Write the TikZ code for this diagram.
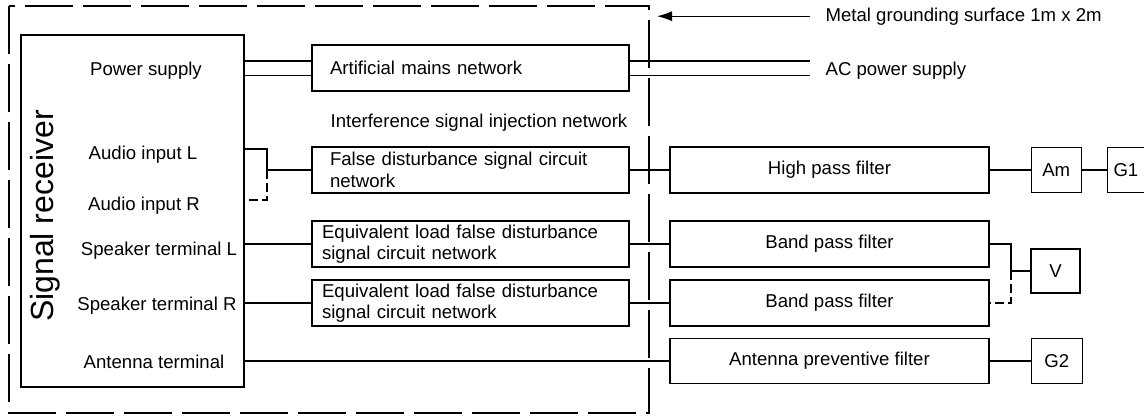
\documentclass[tikz,border=0pt]{standalone}
\usepackage{fontspec}
\setmainfont{Liberation Sans}
\usetikzlibrary{arrows.meta}
\usetikzlibrary{positioning}
\newcommand{\lblfont}{\fontsize{18.6}{21.5}\selectfont}

\begin{document}
\begin{tikzpicture}[x=1pt,y=-1pt,line width=1.2pt,font=\lblfont,
	box/.style={draw,inner sep=0pt,minimum height=46pt},
	netbox/.style={box,inner xsep=18pt,text width=281pt,align=left},
	eqbox/.style={box,inner xsep=10pt,text width=297pt,align=left},
	filt/.style={box,minimum width=319pt},
	meter/.style={box,minimum width=50pt,minimum height=45pt},
	pin/.style={inner sep=0pt,anchor=base},
	note/.style={inner xsep=15pt,inner ysep=0pt,anchor=base west},
	dbl/.style={double,double distance=13pt},
	dashline/.style={dash pattern=on 9pt off 4pt},
	frame/.style={dash pattern=on 48pt off 10pt},
	>={Latex[length=15pt,width=10pt]}]
		
		\useasboundingbox (0,0) rectangle (1144,416);
		
		% signal receiver
		\node[draw,minimum width=223pt,minimum height=352pt] (rec) at (132.5,211) {};
		\node[rotate=90,font=\fontsize{32}{36}\selectfont] (rectitle) at (45,216) {Signal receiver};
		\node[pin] (pwr) at (146,75) {Power supply};
		\node[pin] (audL) at (143,159) {Audio input L};
		\node[pin] (audR) at (144,210) {Audio input R};
		\node[pin] (spkL) at (159,255) {Speaker terminal L};
		\node[pin] (spkR) at (157,310) {Speaker terminal R};
		\node[pin] (ant) at (154,368) {Antenna terminal};
		
		% networks
		\node[netbox] (amn) at (470.5,68) {Artificial mains network};
		\node[inner sep=0pt,anchor=base west] (isn) at (330,127) {Interference signal injection network};
		\node[netbox] (fd) at (470.5,170) {False disturbance signal circuit\\network};
		\node[eqbox] (eq1) at (470.5,244) {Equivalent load false disturbance\\signal circuit network};
		\node[eqbox] (eq2) at (470.5,303) {Equivalent load false disturbance\\signal circuit network};
		
		% filters and meters
		\node[filt] (hpf) at (829.5,170) {High pass filter};
		\node[filt] (bp1) at (829.5,244) {Band pass filter};
		\node[filt] (bp2) at (829.5,303) {Band pass filter};
		\node[filt,minimum height=45pt] (apf) at (829.5,361) {Antenna preventive filter};
		\node[meter,right=41pt of hpf] (am) {Am};
		\node[meter,minimum width=37pt,right=25pt of am] (g1) {G1};
		\node[meter,minimum width=49pt,minimum height=44pt] (v) at (1055.5,271) {V};
		\node[meter,minimum width=51pt,right=41pt of apf] (g2) {G2};
		
		% outside labels
		\node[note] (mg) at (810,21) {Metal grounding surface 1m x 2m};
		\node[note] (ac) at (810,75) {AC power supply};
		\coordinate (gnd) at (657,0);
		\draw[->] (mg.west) -- (mg.west -| gnd);
		
		% power
		\draw[dbl] (rec.east |- amn) -- (amn);
		\draw[dbl] (amn) -- (amn -| ac.west);
		
		% audio
		\coordinate (inL) at (244,149);
		\coordinate (inR) at (244,200);
		\coordinate (aj) at (267,170);
		\draw (inL) -| (aj) -- (fd);
		\draw[dashline] (aj) |- (inR);
		\draw (fd) -- (hpf);
		\draw (hpf) -- (am) -- (g1);
		
		% speaker
		\draw (rec.east |- eq1) -- (eq1) -- (bp1);
		\draw (rec.east |- eq2) -- (eq2) -- (bp2);
		\coordinate (vj) at (1011,271);
		\draw (bp1) -| (vj) -- (v);
		\draw[dashline] (vj) |- (bp2);
		
		% antenna
		\draw (rec.east |- apf) -- (apf);
		\draw (apf) -- (g2);
		
		% grounding surface
		\draw[frame] (9,6) rectangle (649,413);
		
\end{tikzpicture}
\end{document}
